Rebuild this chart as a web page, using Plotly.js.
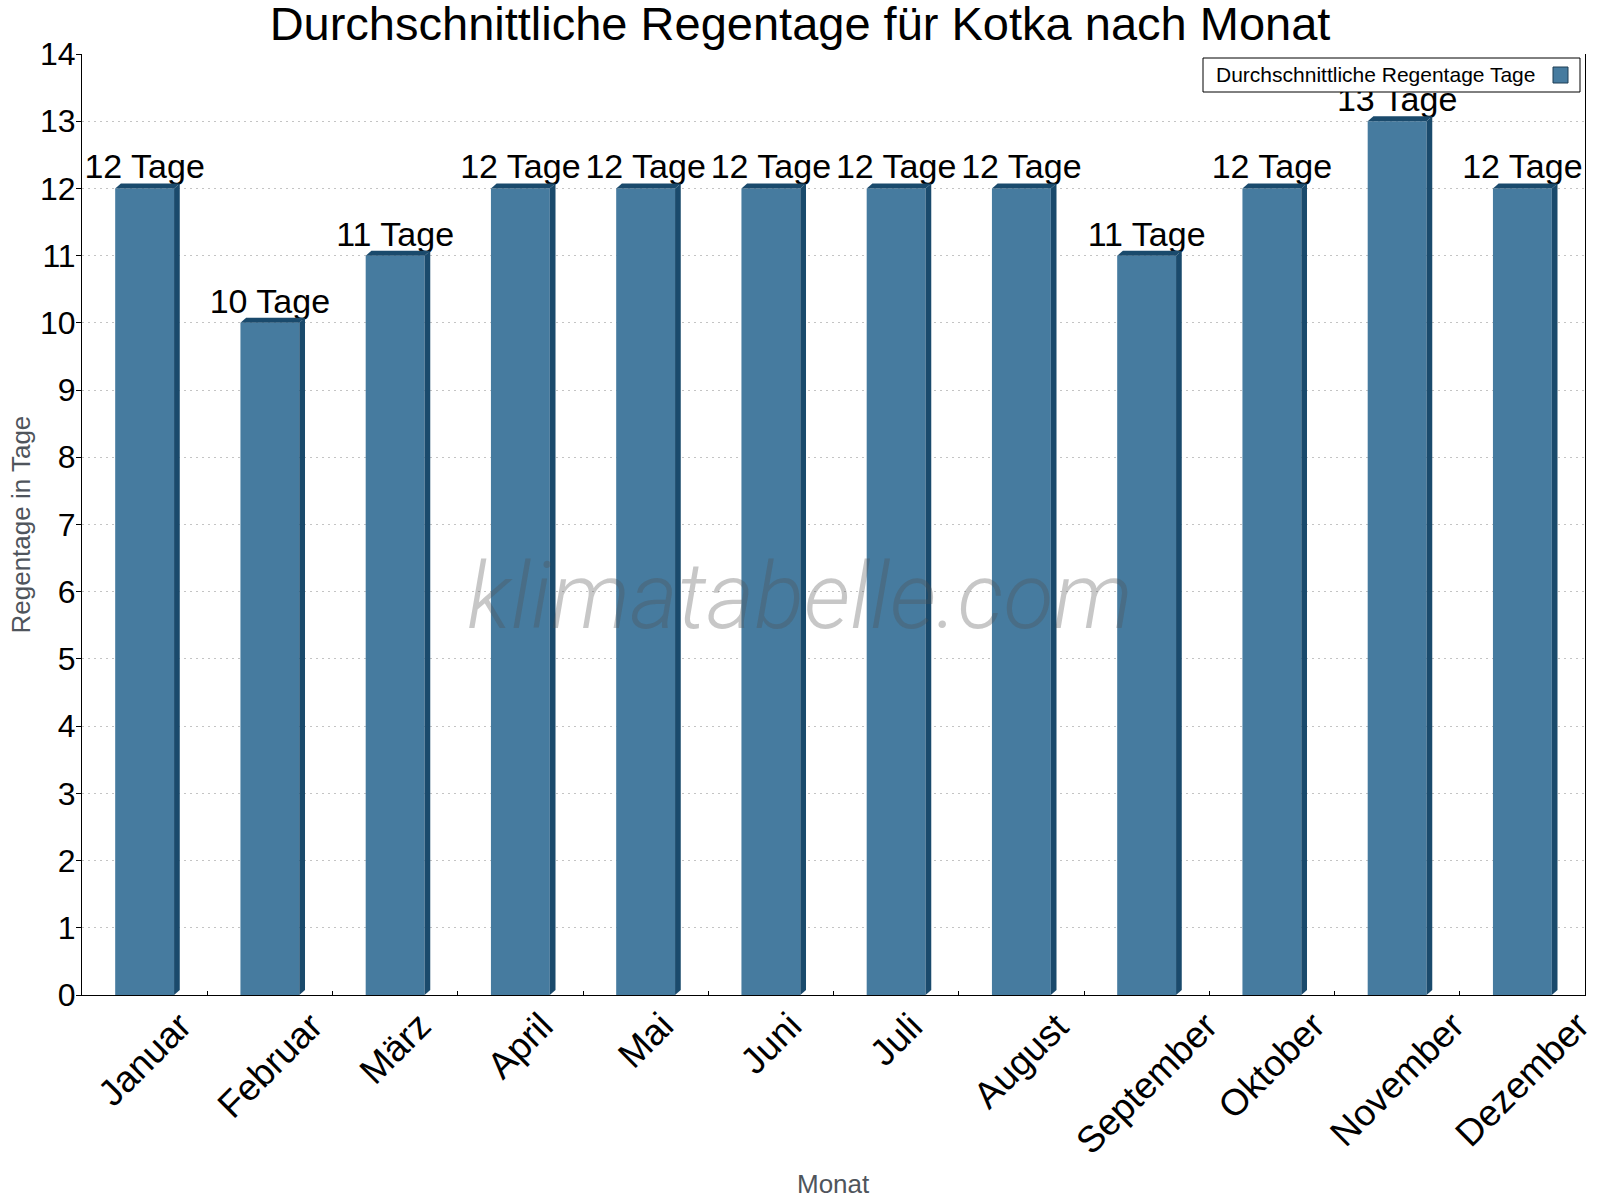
<!DOCTYPE html>
<html>
<head>
<meta charset="utf-8">
<script src="https://cdn.plot.ly/plotly-3.0.1.min.js"></script>
<style>
  html, body { margin: 0; padding: 0; background: #ffffff; }
  #chart { width: 1600px; height: 1200px; }
</style>
</head>
<body>
<div id="chart"></div>
<script>
// Monthly rain days for Kotka
const months = ['Januar', 'Februar', 'März', 'April', 'Mai', 'Juni', 'Juli', 'August', 'September', 'Oktober', 'November', 'Dezember'];
const rainDays = [12, 10, 11, 12, 12, 12, 12, 12, 11, 12, 13, 12];
const seriesName = 'Durchschnittliche Regentage Tage';
const unitLabel = 'Tage';
const yTickValues = [0, 1, 2, 3, 4, 5, 6, 7, 8, 9, 10, 11, 12, 13, 14];

const chartTitle = 'Durchschnittliche Regentage für Kotka nach Monat';
const xTitle = 'Monat';
const yTitle = 'Regentage in Tage';
const watermark = 'klimatabelle.com';

// look
const FONT = 'Liberation Sans, Arial, Helvetica, sans-serif';
const FRONT_COLOR = '#467b9f';
const SHADE_COLOR = '#1a4a6c';
const AXIS_TITLE_COLOR = '#4f555c';

const W = 1600, H = 1200;
const M = { l: 82, r: 15, t: 54, b: 205 };
const plotW = W - M.l - M.r;
const plotH = H - M.t - M.b;
const yMax = yTickValues[yTickValues.length - 1];

// bar geometry in axis units; the extruded faces get a fixed pixel depth
const barWidth = 0.47;
const depthX = 5.7 / (plotW / months.length);
const depthY = 5 / (plotH / yMax);

const idx = months.map((_, i) => i);

// side and top faces of each bar, derived from the data values
const faceShapes = [];
idx.forEach(i => {
  const v = rainDays[i];
  const xl = i - barWidth / 2, xr = i + barWidth / 2;
  faceShapes.push({
    type: 'path', xref: 'x', yref: 'y', layer: 'above',
    path: `M${xr},0 L${xr + depthX},${depthY} L${xr + depthX},${v + depthY} L${xr},${v} Z`,
    fillcolor: SHADE_COLOR, line: { width: 0 }
  });
  faceShapes.push({
    type: 'path', xref: 'x', yref: 'y', layer: 'above',
    path: `M${xl},${v} L${xl + depthX},${v + depthY} L${xr + depthX},${v + depthY} L${xr},${v} Z`,
    fillcolor: SHADE_COLOR, line: { width: 0 }
  });
});

// plot-area fractions for pixel positions
const px = x => (x - M.l) / plotW;
const py = y => (H - M.b - y) / plotH;

// legend box with the swatch to the right of the text
const legendShapes = [
  { type: 'rect', xref: 'paper', yref: 'paper', layer: 'above',
    x0: px(1203), x1: px(1580), y0: py(92), y1: py(58),
    fillcolor: '#ffffff', line: { color: '#000000', width: 1 } },
  { type: 'rect', xref: 'paper', yref: 'paper', layer: 'above',
    x0: px(1553), x1: px(1568), y0: py(83), y1: py(67),
    fillcolor: FRONT_COLOR, line: { color: '#1f3f55', width: 1 } }
];

const monthLabels = idx.map(i => ({
  xref: 'x', yref: 'y', x: i, y: 0,
  text: months[i], showarrow: false, textangle: -45,
  xanchor: 'center', yanchor: 'top', yshift: -7,
  font: { family: FONT, size: 37, color: '#000000' }
}));

const annotations = monthLabels.concat([
  { xref: 'paper', yref: 'paper', x: px(800), y: py(596),
    text: watermark, showarrow: false, xanchor: 'center', yanchor: 'middle',
    font: { family: 'Roboto, sans-serif', size: 92, weight: 300, style: 'italic', color: 'rgba(80,80,80,0.32)' } },
  { xref: 'paper', yref: 'paper', x: 0.5, y: py(1184),
    text: xTitle, showarrow: false, xanchor: 'center', yanchor: 'middle',
    font: { family: FONT, size: 26, color: AXIS_TITLE_COLOR } },
  { xref: 'paper', yref: 'paper', x: px(20), y: 0.5, textangle: -90,
    text: yTitle, showarrow: false, xanchor: 'center', yanchor: 'middle',
    font: { family: FONT, size: 26, color: AXIS_TITLE_COLOR } },
  { xref: 'paper', yref: 'paper', x: px(1214), y: py(75),
    text: seriesName, showarrow: false, xanchor: 'left', yanchor: 'middle',
    font: { family: FONT, size: 21, color: '#000000' } }
]);

const trace = {
  type: 'bar',
  name: seriesName,
  x: idx,
  y: rainDays,
  width: barWidth,
  marker: { color: FRONT_COLOR, line: { width: 0 } },
  text: rainDays.map(v => `${v} ${unitLabel}`),
  textposition: 'outside',
  textangle: 0,
  constraintext: 'none',
  cliponaxis: false,
  textfont: { family: FONT, size: 34, color: '#000000' },
  hoverinfo: 'x+y',
  showlegend: false
};

const layout = {
  width: W, height: H,
  margin: M,
  paper_bgcolor: '#ffffff',
  plot_bgcolor: '#ffffff',
  font: { family: FONT, color: '#000000' },
  showlegend: false,
  title: {
    text: chartTitle,
    font: { family: FONT, size: 47, color: '#000000' },
    xref: 'container', x: 0.5, xanchor: 'center',
    yref: 'container', y: 1 - 24 / H, yanchor: 'middle'
  },
  xaxis: {
    type: 'linear',
    range: [-0.5, months.length - 0.5],
    tickmode: 'array',
    tickvals: idx,
    ticktext: months,
    showticklabels: false,
    ticks: '',
    showgrid: false,
    zeroline: false,
    showline: true, linecolor: '#000000', linewidth: 1,
    minor: {
      tickmode: 'array',
      tickvals: idx.map(i => i + 0.5),
      ticks: 'inside', ticklen: 4, tickwidth: 1, tickcolor: '#000000',
      showgrid: false
    },
    fixedrange: true
  },
  yaxis: {
    range: [0, yMax],
    tickmode: 'array',
    tickvals: yTickValues,
    ticks: 'outside', ticklen: 5, tickwidth: 1, tickcolor: '#000000',
    tickfont: { family: FONT, size: 32, color: '#000000' },
    ticklabelstandoff: -6,
    showgrid: true, gridcolor: '#c4c4c4', gridwidth: 1, griddash: '2px,4px',
    zeroline: false,
    showline: true, linecolor: '#000000', linewidth: 1, mirror: true,
    fixedrange: true
  },
  shapes: faceShapes.concat(legendShapes),
  annotations: annotations
};

Plotly.newPlot('chart', [trace], layout, { displayModeBar: false, staticPlot: true });
</script>
</body>
</html>
